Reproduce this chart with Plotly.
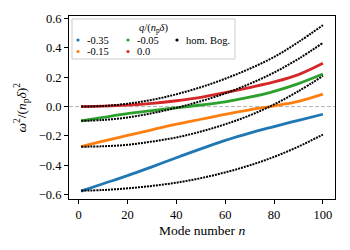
import plotly.graph_objects as go

# Mode numbers at which values were read
n_vals = [1, 10, 20, 30, 40, 50, 60, 70, 80, 90, 100]

# Numerical spectra for each q/(n_p delta)
q_labels = ["-0.35", "-0.15", "-0.05", "0.0"]
q_colors = ["#1f77b4", "#ff7f0e", "#2ca02c", "#d62728"]
num_m035 = [-0.575, -0.525, -0.470, -0.410, -0.348, -0.288, -0.230, -0.180, -0.136, -0.093, -0.052]
num_m015 = [-0.273, -0.235, -0.196, -0.158, -0.120, -0.086, -0.052, -0.022, 0.005, 0.036, 0.085]
num_m005 = [-0.097, -0.073, -0.047, -0.027, -0.008, 0.011, 0.033, 0.064, 0.104, 0.157, 0.222]
num_0 = [0.0, 0.003, 0.010, 0.022, 0.040, 0.063, 0.095, 0.130, 0.168, 0.218, 0.295]

# Homogeneous Bogoliubov curves
hom_m035 = [-0.572, -0.568, -0.556, -0.540, -0.518, -0.487, -0.448, -0.400, -0.342, -0.272, -0.190]
hom_m015 = [-0.273, -0.270, -0.260, -0.238, -0.210, -0.170, -0.120, -0.060, 0.015, 0.105, 0.209]
hom_m005 = [-0.097, -0.091, -0.074, -0.045, -0.008, 0.037, 0.090, 0.155, 0.232, 0.325, 0.434]
hom_0 = [0.0, 0.004, 0.020, 0.046, 0.084, 0.132, 0.190, 0.258, 0.338, 0.440, 0.555]

x_ticks = [0, 20, 40, 60, 80, 100]
y_ticks = [-0.6, -0.4, -0.2, 0.0, 0.2, 0.4, 0.6]

FONT = "Liberation Serif"
fig = go.Figure()

for lab, col, ys in zip(q_labels, q_colors, [num_m035, num_m015, num_m005, num_0]):
    fig.add_trace(go.Scatter(x=n_vals, y=ys, mode="lines", name=lab,
                             line=dict(color=col, width=2.8, shape="spline"),
                             showlegend=False))

for ys in [hom_m035, hom_m015, hom_m005, hom_0]:
    fig.add_trace(go.Scatter(x=n_vals, y=ys, mode="lines", name="hom. Bog.",
                             line=dict(color="black", width=2, dash="2px,1px", shape="spline"),
                             showlegend=False))

L, R, T, B = 69, 335, 16, 199
W, H = R - L, B - T


def px(x):
    return (x - L) / W


def py(y):
    return (B - y) / H


shapes = [
    dict(type="line", xref="paper", yref="y", x0=0, x1=1, y0=0, y1=0,
         line=dict(color="#b0b0b0", width=1, dash="4px,2px"), layer="below"),
    dict(type="rect", xref="paper", yref="paper", x0=px(72), x1=px(235), y0=py(59), y1=py(19),
         line=dict(color="#cccccc", width=1), fillcolor="rgba(255,255,255,0.8)"),
]
annotations = []

legend_items = [
    ("-0.35", "#1f77b4", 78, 40),
    ("-0.05", "#2ca02c", 128, 40),
    ("hom. Bog.", "black", 177, 40),
    ("-0.15", "#ff7f0e", 78, 51.5),
    ("0.0", "#d62728", 128, 51.5),
]
for text, col, mx, my in legend_items:
    shapes.append(dict(type="circle", xref="paper", yref="paper", xsizemode="pixel", ysizemode="pixel",
                       xanchor=px(mx), yanchor=py(my), x0=-1.6, x1=1.6, y0=-1.6, y1=1.6,
                       fillcolor=col, line=dict(width=0)))
    annotations.append(dict(xref="paper", yref="paper", x=px(mx + 7), y=py(my), text=text,
                            showarrow=False, xanchor="left", yanchor="middle",
                            font=dict(family=FONT, size=10.5, color="black")))

annotations.append(dict(xref="paper", yref="paper", x=px(153.5), y=py(29),
                        text="<i>q</i>/(<i>n</i><sub>p</sub><i>δ</i>)", showarrow=False,
                        xanchor="center", yanchor="middle",
                        font=dict(family=FONT, size=10.5, color="black")))
annotations.append(dict(xref="paper", yref="paper", x=0.5, y=py(230), text="Mode number <i>n</i>",
                        showarrow=False, xanchor="center", yanchor="middle",
                        font=dict(family=FONT, size=13.5, color="black")))
annotations.append(dict(xref="paper", yref="paper", x=px(22), y=0.5,
                        text="<i>ω</i><sup>2</sup>/(<i>n</i><sub>p</sub><i>δ</i>)<sup>2</sup>",
                        textangle=-90, showarrow=False, xanchor="center", yanchor="middle",
                        font=dict(family=FONT, size=13.5, color="black")))

fig.update_layout(
    width=350, height=250,
    margin=dict(l=L, r=350 - R, t=T, b=250 - B),
    paper_bgcolor="white", plot_bgcolor="white",
    font=dict(family=FONT, size=12.5, color="black"),
    shapes=shapes, annotations=annotations,
    showlegend=False,
)
fig.update_xaxes(range=[-3.95, 104.95], tickvals=x_ticks, ticks="outside", ticklen=4, tickwidth=1,
                 tickcolor="black", showline=True, linecolor="black", linewidth=1, mirror=True,
                 showgrid=False, zeroline=False, tickfont=dict(family=FONT, size=12.5))
fig.update_yaxes(range=[-0.629, 0.617], tickvals=y_ticks, tickformat=".1f", ticks="outside",
                 ticklen=4, tickwidth=1, tickcolor="black", showline=True, linecolor="black",
                 linewidth=1, mirror=True, showgrid=False, zeroline=False,
                 tickfont=dict(family=FONT, size=12.5))

fig.write_html("out.html", config={"displayModeBar": False},
               post_script="document.body.style.margin='0px';document.body.style.overflow='hidden';")
